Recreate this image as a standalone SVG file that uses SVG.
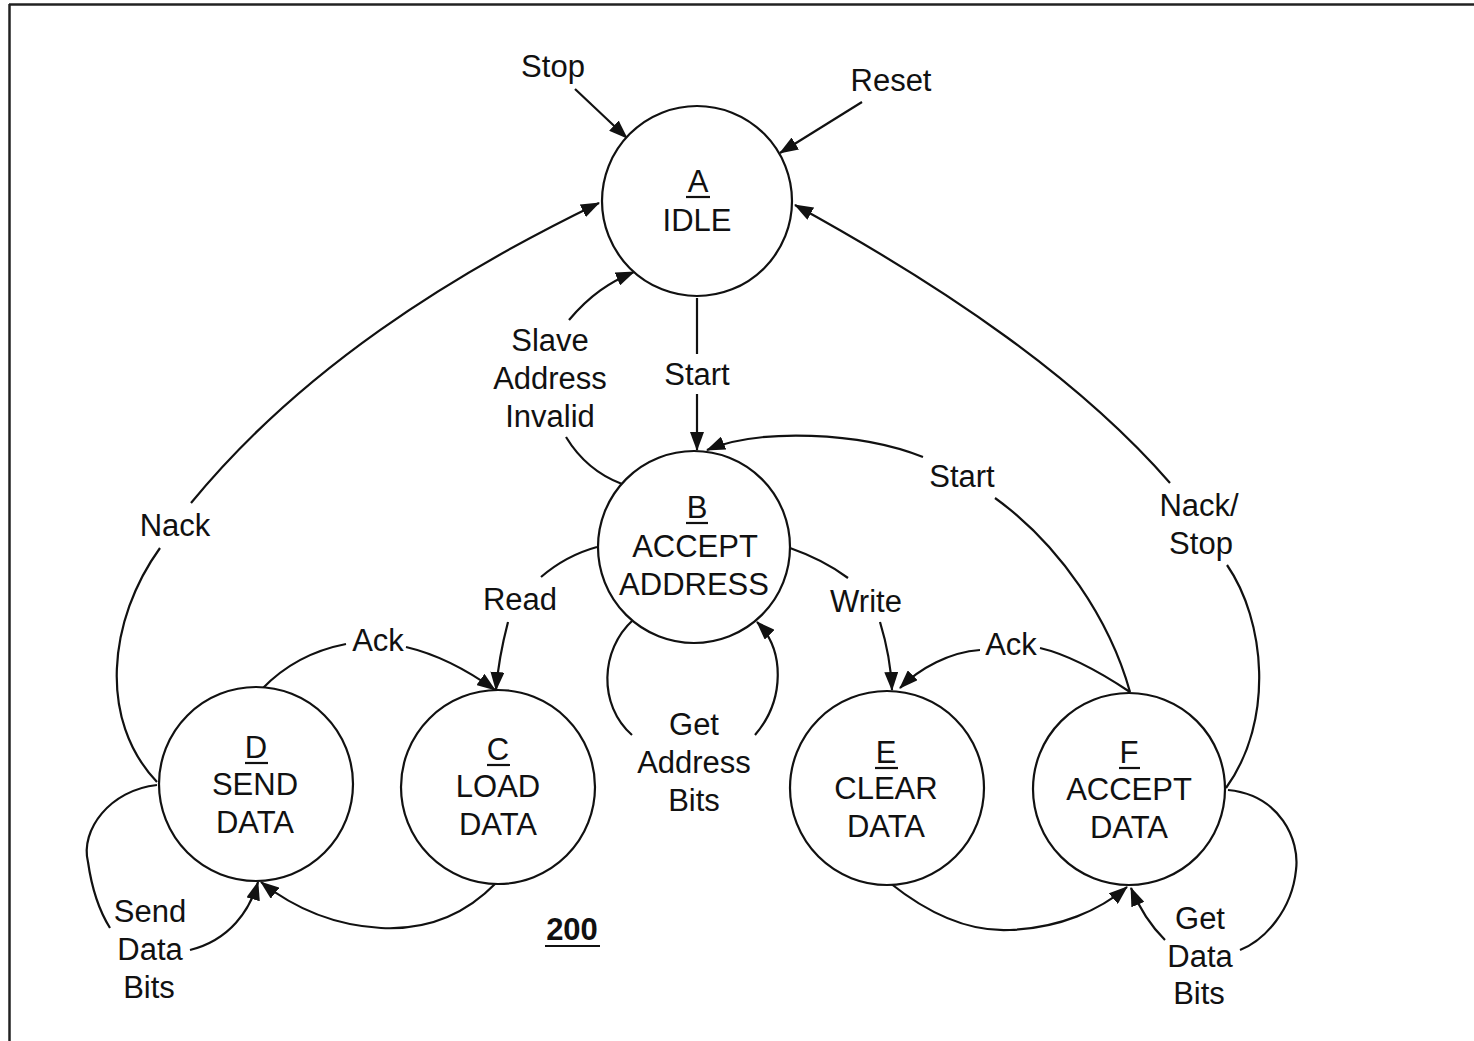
<svg xmlns="http://www.w3.org/2000/svg" width="1474" height="1041" viewBox="0 0 1474 1041">
<style>
.st{fill:#fff;stroke:#111;stroke-width:2.2}
.t{font-family:"Liberation Sans",Arial,sans-serif;font-size:31px;fill:#111;text-anchor:middle}
.c{fill:none;stroke:#111;stroke-width:2.2}
.u{stroke:#111;stroke-width:2.2}
</style>
<defs>
<marker id="ah" markerUnits="userSpaceOnUse" markerWidth="20" markerHeight="14" refX="18" refY="7" orient="auto">
<path d="M0,0 L19,7 L0,14 z" fill="#111"/>
</marker>
</defs>
<rect width="1474" height="1041" fill="#fff"/>
<g id="border">
<line x1="9" y1="4.5" x2="1474" y2="4.5" stroke="#222" stroke-width="2.5"/>
<line x1="9.5" y1="4" x2="9.5" y2="1041" stroke="#222" stroke-width="2.5"/>
</g>
<g id="connectors">
<path class="c" d="M575 89 L627 138" marker-end="url(#ah)"/>
<path class="c" d="M862 102 L780 153" marker-end="url(#ah)"/>
<path class="c" d="M191 503 C300 370 450 275 599 203" marker-end="url(#ah)"/>
<path class="c" d="M160 548 C108 620 98 720 157 782"/>
<path class="c" d="M569 320 C590 295 610 282 634 272" marker-end="url(#ah)"/>
<path class="c" d="M566 437 C580 460 598 475 622 484"/>
<path class="c" d="M697 298 L697 354"/>
<path class="c" d="M697 394 L697 450" marker-end="url(#ah)"/>
<path class="c" d="M1130 692 C1110 620 1060 545 995 498"/>
<path class="c" d="M923 457 C860 432 760 428 707 450" marker-end="url(#ah)"/>
<path class="c" d="M1170 483 C1080 380 950 290 795 205" marker-end="url(#ah)"/>
<path class="c" d="M1227 565 C1265 620 1275 720 1226 788"/>
<path class="c" d="M597 547 C575 553 555 565 541 577"/>
<path class="c" d="M508 622 C502 645 498 665 496 690" marker-end="url(#ah)"/>
<path class="c" d="M790 548 C810 555 832 566 848 578"/>
<path class="c" d="M880 622 C887 645 891 665 892 690" marker-end="url(#ah)"/>
<path class="c" d="M262 689 C285 665 315 650 346 644"/>
<path class="c" d="M406 647 C440 655 470 672 495 690" marker-end="url(#ah)"/>
<path class="c" d="M1130 692 C1100 672 1070 655 1040 648"/>
<path class="c" d="M980 650 C950 652 920 668 900 688" marker-end="url(#ah)"/>
<path class="c" d="M496 883 C460 920 420 930 381 928 C330 925 290 905 261 882" marker-end="url(#ah)"/>
<path class="c" d="M890 883 C930 915 970 932 1010 930 C1060 928 1100 910 1127 887" marker-end="url(#ah)"/>
<path class="c" d="M157 785 C110 790 80 830 88 862 C92 890 100 912 110 928"/>
<path class="c" d="M190 950 C230 940 250 910 258 882" marker-end="url(#ah)"/>
<path class="c" d="M1228 790 C1280 795 1300 840 1296 870 C1292 910 1265 940 1240 950"/>
<path class="c" d="M1165 940 C1150 925 1138 905 1131 888" marker-end="url(#ah)"/>
<path class="c" d="M633 620 C600 650 598 705 632 735"/>
<path class="c" d="M755 735 C785 700 785 650 757 622" marker-end="url(#ah)"/>
</g>
<g id="labels">
<text class="t" x="553" y="77">Stop</text>
<text class="t" x="891" y="91">Reset</text>
<text class="t" x="550" y="351">Slave</text>
<text class="t" x="550" y="389">Address</text>
<text class="t" x="550" y="427">Invalid</text>
<text class="t" x="697" y="385">Start</text>
<text class="t" x="962" y="487">Start</text>
<text class="t" x="1199" y="516">Nack/</text>
<text class="t" x="1201" y="554">Stop</text>
<text class="t" x="175" y="536">Nack</text>
<text class="t" x="520" y="610">Read</text>
<text class="t" x="866" y="612">Write</text>
<text class="t" x="378" y="651">Ack</text>
<text class="t" x="1011" y="655">Ack</text>
<text class="t" x="694" y="735">Get</text>
<text class="t" x="694" y="773">Address</text>
<text class="t" x="694" y="811">Bits</text>
<text class="t" x="150" y="922">Send</text>
<text class="t" x="150" y="960">Data</text>
<text class="t" x="149" y="998">Bits</text>
<text class="t" x="1200" y="929">Get</text>
<text class="t" x="1200" y="967">Data</text>
<text class="t" x="1199" y="1004">Bits</text>
<text class="t" x="572" y="940" font-weight="bold">200</text>
<line class="u" x1="545" y1="946" x2="600" y2="946"/>
</g>
<g id="node-A">
<circle class="st" cx="697" cy="201" r="95"/>
<text class="t" x="698" y="192">A</text>
<line class="u" x1="686" y1="197" x2="710" y2="197"/>
<text class="t" x="697" y="231">IDLE</text>
</g>
<g id="node-B">
<circle class="st" cx="694" cy="547" r="96"/>
<text class="t" x="697" y="518">B</text>
<line class="u" x1="686" y1="523" x2="708" y2="523"/>
<text class="t" x="695" y="557">ACCEPT</text>
<text class="t" x="694" y="595">ADDRESS</text>
</g>
<g id="node-C">
<circle class="st" cx="498" cy="787" r="97"/>
<text class="t" x="498" y="760">C</text>
<line class="u" x1="487" y1="765" x2="510" y2="765"/>
<text class="t" x="498" y="797">LOAD</text>
<text class="t" x="498" y="835">DATA</text>
</g>
<g id="node-D">
<circle class="st" cx="256" cy="784" r="97"/>
<text class="t" x="256" y="758">D</text>
<line class="u" x1="245" y1="763" x2="268" y2="763"/>
<text class="t" x="255" y="795">SEND</text>
<text class="t" x="255" y="833">DATA</text>
</g>
<g id="node-E">
<circle class="st" cx="887" cy="788" r="97"/>
<text class="t" x="886" y="763">E</text>
<line class="u" x1="875" y1="768" x2="898" y2="768"/>
<text class="t" x="886" y="799">CLEAR</text>
<text class="t" x="886" y="837">DATA</text>
</g>
<g id="node-F">
<circle class="st" cx="1129" cy="789" r="96"/>
<text class="t" x="1129" y="763">F</text>
<line class="u" x1="1119" y1="768" x2="1140" y2="768"/>
<text class="t" x="1129" y="800">ACCEPT</text>
<text class="t" x="1129" y="838">DATA</text>
</g>
</svg>
